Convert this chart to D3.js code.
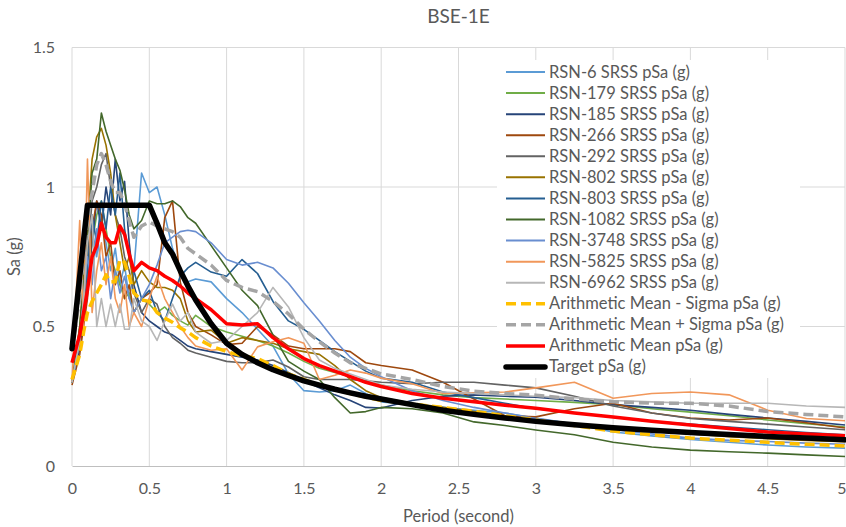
<!DOCTYPE html>
<html><head><meta charset="utf-8">
<script src="https://cdn.jsdelivr.net/npm/d3@7"></script>
<style>
body{margin:0;background:#fff}
text{font-family:Lato,"Liberation Sans",sans-serif;fill:#595959}
</style>
</head><body>
<svg id="chart" width="846" height="527"></svg>
<script>
// ---------- DATA ----------
const chartTitle = "BSE-1E";
const xTitle = "Period (second)";
const yTitle = "Sa (g)";
const xTickValues = [0, 0.5, 1, 1.5, 2, 2.5, 3, 3.5, 4, 4.5, 5];
const xTickLabels = ["0","0.5","1","1.5","2","2.5","3","3.5","4","4.5","5"];
const yTickValues = [0, 0.5, 1, 1.5];
const yTickLabels = ["0","0.5","1","1.5"];

const periods = [0, 0.05, 0.075, 0.1,
  0.13, 0.16, 0.19, 0.22, 0.25, 0.28, 0.31, 0.34, 0.37, 0.4,
  0.45, 0.5, 0.55, 0.6, 0.65, 0.7, 0.75, 0.8, 0.9,
  1.0, 1.1, 1.2, 1.3, 1.4, 1.5, 1.6, 1.7, 1.8, 1.9, 2.0,
  2.2, 2.4, 2.6, 2.8, 3.0,
  3.25, 3.5, 3.75, 4.0, 4.25, 4.5, 4.75, 5.0];

const rsn6 = [0.30, 0.42, 0.55, 0.70,
  0.85, 0.75, 0.90, 0.80, 0.70, 0.78, 0.65, 0.72, 0.60, 0.70,
  1.05, 0.98, 1.00, 0.90, 0.78, 0.70, 0.66, 0.67, 0.66,
  0.60, 0.55, 0.49, 0.43, 0.33, 0.27, 0.265, 0.27, 0.29, 0.26, 0.23,
  0.22, 0.21, 0.20, 0.19, 0.172,
  0.15, 0.122, 0.108, 0.095, 0.085, 0.075, 0.068, 0.064];
const rsn179 = [0.30, 0.45, 0.58, 0.70,
  0.80, 0.90, 0.95, 0.85, 0.75, 0.70, 0.65, 0.60, 0.62, 0.55,
  0.60, 0.58, 0.55, 0.57, 0.54, 0.52, 0.505, 0.54, 0.50,
  0.48, 0.465, 0.45, 0.43, 0.405, 0.375, 0.35, 0.335, 0.32, 0.305, 0.29,
  0.27, 0.255, 0.245, 0.24, 0.235,
  0.228, 0.22, 0.205, 0.193, 0.18, 0.165, 0.152, 0.14];
const rsn185 = [0.30, 0.42, 0.52, 0.65,
  0.80, 0.95, 0.85, 1.00, 0.90, 1.10, 0.95, 1.02, 0.80, 0.65,
  0.55, 0.52, 0.50, 0.48, 0.47, 0.45, 0.43, 0.42, 0.41,
  0.40, 0.39, 0.38, 0.36, 0.335, 0.305, 0.28, 0.255, 0.235, 0.21, 0.208,
  0.235, 0.25, 0.255, 0.25, 0.247,
  0.235, 0.22, 0.21, 0.20, 0.185, 0.172, 0.16, 0.147];
const rsn266 = [0.29, 0.40, 0.50, 0.60,
  0.85, 0.95, 0.90, 0.75, 0.80, 0.65, 0.70, 0.60, 0.65, 0.55,
  0.60, 0.62, 0.65, 0.89, 0.95, 0.66, 0.55, 0.50, 0.47,
  0.435, 0.44, 0.50, 0.47, 0.43, 0.42, 0.42, 0.42, 0.41, 0.37, 0.36,
  0.344, 0.30, 0.24, 0.18, 0.176,
  0.205, 0.225, 0.19, 0.172, 0.165, 0.172, 0.155, 0.136];
const rsn292 = [0.30, 0.45, 0.60, 0.75,
  0.95, 1.00, 1.08, 1.12, 1.00, 0.90, 0.85, 0.75, 0.70, 0.62,
  0.55, 0.60, 0.58, 0.50, 0.46, 0.44, 0.415, 0.405, 0.39,
  0.375, 0.37, 0.37, 0.38, 0.355, 0.32, 0.31, 0.31, 0.31, 0.305, 0.30,
  0.295, 0.30, 0.30, 0.29, 0.28,
  0.25, 0.215, 0.19, 0.17, 0.16, 0.15, 0.14, 0.13];
const rsn802 = [0.30, 0.50, 0.68, 0.85,
  1.10, 1.18, 1.21, 1.15, 1.05, 0.90, 0.80, 0.70, 0.75, 0.65,
  0.70, 0.66, 0.64, 0.64, 0.63, 0.60, 0.52, 0.48, 0.487,
  0.44, 0.46, 0.45, 0.44, 0.42, 0.41, 0.40, 0.36, 0.31, 0.27, 0.245,
  0.225, 0.21, 0.195, 0.18, 0.165,
  0.15, 0.135, 0.125, 0.115, 0.105, 0.098, 0.092, 0.087];
const rsn803 = [0.30, 0.45, 0.58, 0.70,
  0.90, 0.80, 0.95, 0.85, 1.00, 0.90, 1.05, 0.85, 0.75, 0.70,
  0.60, 0.63, 0.55, 0.52, 0.60, 0.68, 0.71, 0.73, 0.695,
  0.68, 0.74, 0.69, 0.59, 0.52, 0.49, 0.45, 0.41, 0.375, 0.34, 0.315,
  0.30, 0.265, 0.245, 0.225, 0.205,
  0.19, 0.175, 0.16, 0.15, 0.14, 0.13, 0.12, 0.112];
const rsn1082 = [0.30, 0.50, 0.65, 0.80,
  1.05, 1.10, 1.265, 1.20, 1.15, 1.10, 1.06, 0.99, 0.90, 0.85,
  0.88, 0.95, 0.94, 0.94, 0.95, 0.93, 0.89, 0.87, 0.79,
  0.71, 0.63, 0.575, 0.47, 0.375, 0.34, 0.31, 0.245, 0.19, 0.195, 0.21,
  0.205, 0.19, 0.158, 0.145, 0.129,
  0.112, 0.085, 0.068, 0.057, 0.051, 0.046, 0.04, 0.034];
const rsn3748 = [0.30, 0.45, 0.60, 0.75,
  0.65, 0.85, 0.70, 0.75, 0.60, 0.70, 0.62, 0.68, 0.60, 0.55,
  0.60, 0.65, 0.72, 0.80, 0.82, 0.84, 0.845, 0.84, 0.80,
  0.74, 0.72, 0.73, 0.71, 0.655, 0.585, 0.52, 0.45, 0.39, 0.35, 0.32,
  0.27, 0.235, 0.21, 0.19, 0.17,
  0.15, 0.13, 0.115, 0.10, 0.092, 0.088, 0.082, 0.078];
const rsn5825 = [0.30, 0.88, 0.50, 1.10,
  0.55, 0.70, 0.80, 0.65, 0.75, 0.60, 0.55, 0.65, 0.50, 0.55,
  0.50, 0.60, 0.68, 0.60, 0.55, 0.50, 0.46, 0.43, 0.415,
  0.42, 0.344, 0.427, 0.445, 0.46, 0.44, 0.31, 0.325, 0.344, 0.333, 0.315,
  0.295, 0.26, 0.262, 0.265, 0.28,
  0.30, 0.243, 0.26, 0.265, 0.255, 0.20, 0.17, 0.162];
const rsn6962 = [0.30, 0.45, 0.60, 0.80,
  0.90, 0.50, 0.60, 0.50, 0.58, 0.50, 0.58, 0.49, 0.49, 0.60,
  0.52, 0.50, 0.45, 0.52, 0.58, 0.52, 0.55, 0.48, 0.44,
  0.45, 0.50, 0.55, 0.64, 0.57, 0.46, 0.38, 0.35, 0.33, 0.31, 0.29,
  0.275, 0.265, 0.26, 0.255, 0.25,
  0.245, 0.235, 0.23, 0.225, 0.225, 0.225, 0.215, 0.21];
const meanMinusSigma = [0.31, 0.40, 0.48, 0.55,
  0.59, 0.62, 0.65, 0.685, 0.66, 0.66, 0.74, 0.73, 0.68, 0.62,
  0.595, 0.59, 0.55, 0.53, 0.515, 0.495, 0.48, 0.46, 0.43,
  0.41, 0.395, 0.385, 0.36, 0.33, 0.31, 0.29, 0.275, 0.26, 0.247, 0.235,
  0.222, 0.21, 0.196, 0.18, 0.165,
  0.145, 0.125, 0.112, 0.10, 0.092, 0.085, 0.078, 0.072];
const meanPlusSigma = [0.42, 0.60, 0.75, 0.88,
  0.98, 1.08, 1.12, 1.08, 1.02, 0.98, 0.98, 0.94, 0.88, 0.82,
  0.86, 0.875, 0.86, 0.85, 0.84, 0.82, 0.78, 0.76, 0.72,
  0.665, 0.64, 0.625, 0.59, 0.545, 0.49, 0.445, 0.405, 0.37, 0.35, 0.33,
  0.31, 0.285, 0.268, 0.26, 0.254,
  0.24, 0.23, 0.225, 0.225, 0.215, 0.195, 0.185, 0.176];
const meanSa = [0.37, 0.47, 0.55, 0.63,
  0.75, 0.79, 0.87, 0.82, 0.80, 0.80, 0.86, 0.83, 0.76, 0.70,
  0.73, 0.71, 0.70, 0.68, 0.665, 0.645, 0.62, 0.60, 0.56,
  0.51, 0.505, 0.51, 0.46, 0.42, 0.385, 0.36, 0.34, 0.32, 0.30, 0.285,
  0.26, 0.243, 0.23, 0.218, 0.207,
  0.19, 0.176, 0.16, 0.147, 0.134, 0.122, 0.115, 0.108];
const targetSa = [0.42, 0.68, 0.81, 0.935,
  0.935, 0.935, 0.935, 0.935, 0.935, 0.935, 0.935, 0.935, 0.935, 0.935,
  0.935, 0.935, 0.87, 0.80, 0.76, 0.70, 0.645, 0.595, 0.51,
  0.44, 0.40, 0.37, 0.345, 0.325, 0.305, 0.29, 0.275, 0.262, 0.25, 0.24,
  0.22, 0.20, 0.185, 0.172, 0.16,
  0.148, 0.137, 0.128, 0.12, 0.113, 0.106, 0.10, 0.094];

const seriesNames = ["RSN-6 SRSS pSa (g)","RSN-179 SRSS pSa (g)","RSN-185 SRSS pSa (g)",
  "RSN-266 SRSS pSa (g)","RSN-292 SRSS pSa (g)","RSN-802 SRSS pSa (g)","RSN-803 SRSS pSa (g)",
  "RSN-1082 SRSS pSa (g)","RSN-3748 SRSS pSa (g)","RSN-5825 SRSS pSa (g)","RSN-6962 SRSS pSa (g)",
  "Arithmetic Mean - Sigma pSa (g)","Arithmetic Mean + Sigma pSa (g)","Arithmetic Mean pSa (g)","Target pSa (g)"];
const seriesValues = [rsn6, rsn179, rsn185, rsn266, rsn292, rsn802, rsn803, rsn1082, rsn3748,
  rsn5825, rsn6962, meanMinusSigma, meanPlusSigma, meanSa, targetSa];

// ---------- STYLE ----------
const seriesColors = ["#5B9BD5","#70AD47","#264478","#9E480E","#636363","#997300","#255E91",
  "#43682B","#698ED0","#F1975A","#B7B7B7","#FFC000","#A5A5A5","#FF0000","#000000"];
const seriesWidths = [1.6,1.6,1.6,1.6,1.6,1.6,1.6,1.6,1.6,1.6,1.6,3.5,3.5,3.5,5.5];
const seriesDash = [null,null,null,null,null,null,null,null,null,null,null,"10,5","10,5",null,null];

// ---------- LAYOUT ----------
const W = 846, H = 527;
const m = {left: 72, right: 1, top: 47.5, bottom: 61};
const svg = d3.select("#chart");
const x = d3.scaleLinear().domain([0, 5]).range([m.left, W - m.right]);
const y = d3.scaleLinear().domain([0, 1.5]).range([H - m.bottom, m.top]);

// gridlines
svg.append("g").selectAll("line.h").data(yTickValues.filter(v => v > 0)).join("line")
  .attr("x1", x(0)).attr("x2", x(5)).attr("y1", d => y(d)).attr("y2", d => y(d))
  .attr("stroke", "#D9D9D9").attr("stroke-width", 1);
svg.append("g").selectAll("line.v").data(xTickValues).join("line")
  .attr("x1", d => x(d)).attr("x2", d => x(d)).attr("y1", y(0)).attr("y2", y(1.5))
  .attr("stroke", "#D9D9D9").attr("stroke-width", 1);

// axes
const xAxis = d3.axisBottom(x).tickValues(xTickValues).tickSize(0).tickPadding(17)
  .tickFormat((d, i) => xTickLabels[i]);
const gx = svg.append("g").attr("transform", `translate(0,${y(0)})`).call(xAxis);
gx.select(".domain").attr("stroke", "#BFBFBF");
gx.selectAll("text").attr("font-size", 16).style("fill", "#595959").attr("font-family", "Lato");
// keep the last label inside the page edge
gx.selectAll(".tick").filter(d => d === 5).select("text").attr("text-anchor", "end").attr("dx", 1);

const yAxis = d3.axisLeft(y).tickValues(yTickValues).tickSize(0).tickPadding(17)
  .tickFormat((d, i) => yTickLabels[i]);
const gy = svg.append("g").attr("transform", `translate(${x(0)},0)`).call(yAxis);
gy.select(".domain").remove();
gy.selectAll("text").attr("font-size", 16).style("fill", "#595959").attr("font-family", "Lato");

// lines
const line = d3.line().x((d, i) => x(periods[i])).y(d => y(d)).curve(d3.curveLinear);
const lg = svg.append("g");
seriesValues.forEach((vals, k) => {
  lg.append("path").datum(vals).attr("d", line)
    .attr("fill", "none").attr("stroke", seriesColors[k]).attr("stroke-width", seriesWidths[k])
    .attr("stroke-dasharray", seriesDash[k]).attr("stroke-linejoin", "round")
    .attr("stroke-linecap", k === 14 ? "round" : "butt");
});

// titles
svg.append("text").attr("x", (x(0) + x(5)) / 2).attr("y", 23).attr("text-anchor", "middle")
  .attr("font-size", 19).text(chartTitle);
svg.append("text").attr("x", (x(0) + x(5)) / 2).attr("y", 522).attr("text-anchor", "middle")
  .attr("font-size", 16.5).text(xTitle);
svg.append("text").attr("transform", `translate(20,${(y(0) + y(1.5)) / 2}) rotate(-90)`)
  .attr("text-anchor", "middle").attr("font-size", 16.5).text(yTitle);

// legend
const legX = 497, legY = 60, rowH = 21.07;
const leg = svg.append("g");
leg.append("rect").attr("x", legX).attr("y", legY).attr("width", 303).attr("height", 318).attr("fill", "#fff");
seriesNames.forEach((name, k) => {
  const cy = 72 + k * rowH;
  leg.append("line").attr("x1", 506).attr("x2", 545).attr("y1", cy).attr("y2", cy)
    .attr("stroke", seriesColors[k]).attr("stroke-width", k >= 11 ? seriesWidths[k] : 2)
    .attr("stroke-dasharray", seriesDash[k]).attr("stroke-linecap", k === 14 ? "round" : "butt");
  leg.append("text").attr("x", 549).attr("y", cy + 5.5).attr("font-size", 16.5).text(name);
});
</script>
</body></html>
